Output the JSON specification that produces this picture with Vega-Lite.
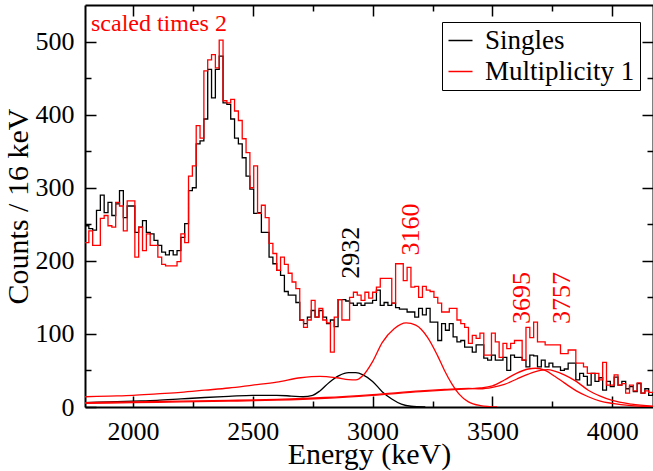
{
"$schema":"https://vega.github.io/schema/vega-lite/v6.json",
"width":568,"height":402,
"autosize":{"type":"none"},
"padding":{"left":85,"top":5,"right":0,"bottom":64},
"background":"white",
"config":{"view":{"stroke":null},"font":"Liberation Serif, serif"},
"datasets":{
"hist":[
{"s":"Singles","E":1800,"c":248},{"s":"Singles","E":1816,"c":244},{"s":"Singles","E":1832,"c":242},{"s":"Singles","E":1848,"c":269},{"s":"Singles","E":1864,"c":290},{"s":"Singles","E":1880,"c":266},{"s":"Singles","E":1896,"c":280},{"s":"Singles","E":1912,"c":262},{"s":"Singles","E":1928,"c":278},{"s":"Singles","E":1944,"c":296},
{"s":"Singles","E":1960,"c":259},{"s":"Singles","E":1976,"c":275},{"s":"Singles","E":1992,"c":275},{"s":"Singles","E":2008,"c":239},{"s":"Singles","E":2024,"c":246},{"s":"Singles","E":2040,"c":255},{"s":"Singles","E":2056,"c":239},{"s":"Singles","E":2072,"c":237},{"s":"Singles","E":2088,"c":228},{"s":"Singles","E":2104,"c":221},
{"s":"Singles","E":2120,"c":212},{"s":"Singles","E":2136,"c":208},{"s":"Singles","E":2152,"c":214},{"s":"Singles","E":2168,"c":208},{"s":"Singles","E":2184,"c":214},{"s":"Singles","E":2200,"c":232},{"s":"Singles","E":2216,"c":251},{"s":"Singles","E":2232,"c":296},{"s":"Singles","E":2248,"c":300},{"s":"Singles","E":2264,"c":360},
{"s":"Singles","E":2280,"c":364},{"s":"Singles","E":2296,"c":394},{"s":"Singles","E":2312,"c":462},{"s":"Singles","E":2328,"c":423},{"s":"Singles","E":2344,"c":462},{"s":"Singles","E":2360,"c":480},{"s":"Singles","E":2376,"c":416},{"s":"Singles","E":2392,"c":414},{"s":"Singles","E":2408,"c":394},{"s":"Singles","E":2424,"c":368},
{"s":"Singles","E":2440,"c":360},{"s":"Singles","E":2456,"c":341},{"s":"Singles","E":2472,"c":316},{"s":"Singles","E":2488,"c":298},{"s":"Singles","E":2504,"c":265},{"s":"Singles","E":2520,"c":266},{"s":"Singles","E":2536,"c":239},{"s":"Singles","E":2552,"c":239},{"s":"Singles","E":2568,"c":205},{"s":"Singles","E":2584,"c":196},
{"s":"Singles","E":2600,"c":187},{"s":"Singles","E":2616,"c":180},{"s":"Singles","E":2632,"c":158},{"s":"Singles","E":2648,"c":153},{"s":"Singles","E":2664,"c":153},{"s":"Singles","E":2680,"c":143},{"s":"Singles","E":2696,"c":119},{"s":"Singles","E":2712,"c":114},{"s":"Singles","E":2728,"c":123},{"s":"Singles","E":2744,"c":132},
{"s":"Singles","E":2760,"c":123},{"s":"Singles","E":2776,"c":132},{"s":"Singles","E":2792,"c":123},{"s":"Singles","E":2808,"c":114},{"s":"Singles","E":2824,"c":119},{"s":"Singles","E":2840,"c":110},{"s":"Singles","E":2856,"c":147},{"s":"Singles","E":2872,"c":147},{"s":"Singles","E":2888,"c":145},{"s":"Singles","E":2904,"c":142},
{"s":"Singles","E":2920,"c":139},{"s":"Singles","E":2936,"c":142},{"s":"Singles","E":2952,"c":139},{"s":"Singles","E":2968,"c":142},{"s":"Singles","E":2984,"c":142},{"s":"Singles","E":3000,"c":146},{"s":"Singles","E":3016,"c":160},{"s":"Singles","E":3032,"c":139},{"s":"Singles","E":3048,"c":143},{"s":"Singles","E":3064,"c":139},
{"s":"Singles","E":3080,"c":142},{"s":"Singles","E":3096,"c":136},{"s":"Singles","E":3112,"c":134},{"s":"Singles","E":3128,"c":134},{"s":"Singles","E":3144,"c":130},{"s":"Singles","E":3160,"c":130},{"s":"Singles","E":3176,"c":123},{"s":"Singles","E":3192,"c":135},{"s":"Singles","E":3208,"c":126},{"s":"Singles","E":3224,"c":135},
{"s":"Singles","E":3240,"c":116},{"s":"Singles","E":3256,"c":116},{"s":"Singles","E":3272,"c":91},{"s":"Singles","E":3288,"c":114},{"s":"Singles","E":3304,"c":105},{"s":"Singles","E":3320,"c":114},{"s":"Singles","E":3336,"c":96},{"s":"Singles","E":3352,"c":89},{"s":"Singles","E":3368,"c":91},{"s":"Singles","E":3384,"c":82},
{"s":"Singles","E":3400,"c":82},{"s":"Singles","E":3416,"c":75},{"s":"Singles","E":3432,"c":85},{"s":"Singles","E":3448,"c":85},{"s":"Singles","E":3464,"c":67},{"s":"Singles","E":3480,"c":64},{"s":"Singles","E":3496,"c":71},{"s":"Singles","E":3512,"c":64},{"s":"Singles","E":3528,"c":64},{"s":"Singles","E":3544,"c":68},
{"s":"Singles","E":3560,"c":50},{"s":"Singles","E":3576,"c":71},{"s":"Singles","E":3592,"c":68},{"s":"Singles","E":3608,"c":68},{"s":"Singles","E":3624,"c":64},{"s":"Singles","E":3640,"c":55},{"s":"Singles","E":3656,"c":71},{"s":"Singles","E":3672,"c":70},{"s":"Singles","E":3688,"c":55},{"s":"Singles","E":3704,"c":64},
{"s":"Singles","E":3720,"c":55},{"s":"Singles","E":3736,"c":60},{"s":"Singles","E":3752,"c":55},{"s":"Singles","E":3768,"c":55},{"s":"Singles","E":3784,"c":50},{"s":"Singles","E":3800,"c":52},{"s":"Singles","E":3816,"c":60},{"s":"Singles","E":3832,"c":60},{"s":"Singles","E":3848,"c":37},{"s":"Singles","E":3864,"c":46},
{"s":"Singles","E":3880,"c":42},{"s":"Singles","E":3896,"c":30},{"s":"Singles","E":3912,"c":46},{"s":"Singles","E":3928,"c":35},{"s":"Singles","E":3944,"c":40},{"s":"Singles","E":3960,"c":23},{"s":"Singles","E":3976,"c":35},{"s":"Singles","E":3992,"c":28},{"s":"Singles","E":4008,"c":41},{"s":"Singles","E":4024,"c":30},
{"s":"Singles","E":4040,"c":35},{"s":"Singles","E":4056,"c":25},{"s":"Singles","E":4072,"c":28},{"s":"Singles","E":4088,"c":21},{"s":"Singles","E":4104,"c":32},{"s":"Singles","E":4120,"c":19},{"s":"Singles","E":4136,"c":25},{"s":"Singles","E":4152,"c":16},{"s":"Singles","E":4168,"c":18},{"s":"Singles","E":4184,"c":18},
{"s":"Multiplicity 1","E":1800,"c":225},{"s":"Multiplicity 1","E":1816,"c":241},{"s":"Multiplicity 1","E":1832,"c":221},{"s":"Multiplicity 1","E":1848,"c":221},{"s":"Multiplicity 1","E":1864,"c":258},{"s":"Multiplicity 1","E":1880,"c":262},{"s":"Multiplicity 1","E":1896,"c":248},{"s":"Multiplicity 1","E":1912,"c":246},{"s":"Multiplicity 1","E":1928,"c":280},{"s":"Multiplicity 1","E":1944,"c":275},
{"s":"Multiplicity 1","E":1960,"c":241},{"s":"Multiplicity 1","E":1976,"c":282},{"s":"Multiplicity 1","E":1992,"c":282},{"s":"Multiplicity 1","E":2008,"c":205},{"s":"Multiplicity 1","E":2024,"c":246},{"s":"Multiplicity 1","E":2040,"c":214},{"s":"Multiplicity 1","E":2056,"c":237},{"s":"Multiplicity 1","E":2072,"c":221},{"s":"Multiplicity 1","E":2088,"c":221},{"s":"Multiplicity 1","E":2104,"c":205},
{"s":"Multiplicity 1","E":2120,"c":195},{"s":"Multiplicity 1","E":2136,"c":193},{"s":"Multiplicity 1","E":2152,"c":193},{"s":"Multiplicity 1","E":2168,"c":193},{"s":"Multiplicity 1","E":2184,"c":199},{"s":"Multiplicity 1","E":2200,"c":237},{"s":"Multiplicity 1","E":2216,"c":225},{"s":"Multiplicity 1","E":2232,"c":316},{"s":"Multiplicity 1","E":2248,"c":330},{"s":"Multiplicity 1","E":2264,"c":385},
{"s":"Multiplicity 1","E":2280,"c":368},{"s":"Multiplicity 1","E":2296,"c":460},{"s":"Multiplicity 1","E":2312,"c":475},{"s":"Multiplicity 1","E":2328,"c":482},{"s":"Multiplicity 1","E":2344,"c":464},{"s":"Multiplicity 1","E":2360,"c":502},{"s":"Multiplicity 1","E":2376,"c":419},{"s":"Multiplicity 1","E":2392,"c":416},{"s":"Multiplicity 1","E":2408,"c":421},{"s":"Multiplicity 1","E":2424,"c":405},
{"s":"Multiplicity 1","E":2440,"c":392},{"s":"Multiplicity 1","E":2456,"c":367},{"s":"Multiplicity 1","E":2472,"c":348},{"s":"Multiplicity 1","E":2488,"c":300},{"s":"Multiplicity 1","E":2504,"c":330},{"s":"Multiplicity 1","E":2520,"c":265},{"s":"Multiplicity 1","E":2536,"c":276},{"s":"Multiplicity 1","E":2552,"c":259},{"s":"Multiplicity 1","E":2568,"c":224},{"s":"Multiplicity 1","E":2584,"c":210},
{"s":"Multiplicity 1","E":2600,"c":187},{"s":"Multiplicity 1","E":2616,"c":205},{"s":"Multiplicity 1","E":2632,"c":195},{"s":"Multiplicity 1","E":2648,"c":183},{"s":"Multiplicity 1","E":2664,"c":171},{"s":"Multiplicity 1","E":2680,"c":162},{"s":"Multiplicity 1","E":2696,"c":119},{"s":"Multiplicity 1","E":2712,"c":109},{"s":"Multiplicity 1","E":2728,"c":119},{"s":"Multiplicity 1","E":2744,"c":146},
{"s":"Multiplicity 1","E":2760,"c":123},{"s":"Multiplicity 1","E":2776,"c":135},{"s":"Multiplicity 1","E":2792,"c":119},{"s":"Multiplicity 1","E":2808,"c":115},{"s":"Multiplicity 1","E":2824,"c":75},{"s":"Multiplicity 1","E":2840,"c":123},{"s":"Multiplicity 1","E":2856,"c":147},{"s":"Multiplicity 1","E":2872,"c":119},{"s":"Multiplicity 1","E":2888,"c":119},{"s":"Multiplicity 1","E":2904,"c":150},
{"s":"Multiplicity 1","E":2920,"c":157},{"s":"Multiplicity 1","E":2936,"c":153},{"s":"Multiplicity 1","E":2952,"c":146},{"s":"Multiplicity 1","E":2968,"c":157},{"s":"Multiplicity 1","E":2984,"c":149},{"s":"Multiplicity 1","E":3000,"c":157},{"s":"Multiplicity 1","E":3016,"c":164},{"s":"Multiplicity 1","E":3032,"c":176},{"s":"Multiplicity 1","E":3048,"c":176},{"s":"Multiplicity 1","E":3064,"c":176},
{"s":"Multiplicity 1","E":3080,"c":142},{"s":"Multiplicity 1","E":3096,"c":196},{"s":"Multiplicity 1","E":3112,"c":196},{"s":"Multiplicity 1","E":3128,"c":173},{"s":"Multiplicity 1","E":3144,"c":191},{"s":"Multiplicity 1","E":3160,"c":164},{"s":"Multiplicity 1","E":3176,"c":165},{"s":"Multiplicity 1","E":3192,"c":150},{"s":"Multiplicity 1","E":3208,"c":165},{"s":"Multiplicity 1","E":3224,"c":160},
{"s":"Multiplicity 1","E":3240,"c":158},{"s":"Multiplicity 1","E":3256,"c":150},{"s":"Multiplicity 1","E":3272,"c":142},{"s":"Multiplicity 1","E":3288,"c":130},{"s":"Multiplicity 1","E":3304,"c":130},{"s":"Multiplicity 1","E":3320,"c":135},{"s":"Multiplicity 1","E":3336,"c":135},{"s":"Multiplicity 1","E":3352,"c":119},{"s":"Multiplicity 1","E":3368,"c":114},{"s":"Multiplicity 1","E":3384,"c":109},
{"s":"Multiplicity 1","E":3400,"c":87},{"s":"Multiplicity 1","E":3416,"c":98},{"s":"Multiplicity 1","E":3432,"c":94},{"s":"Multiplicity 1","E":3448,"c":101},{"s":"Multiplicity 1","E":3464,"c":71},{"s":"Multiplicity 1","E":3480,"c":71},{"s":"Multiplicity 1","E":3496,"c":101},{"s":"Multiplicity 1","E":3512,"c":89},{"s":"Multiplicity 1","E":3528,"c":68},{"s":"Multiplicity 1","E":3544,"c":87},
{"s":"Multiplicity 1","E":3560,"c":80},{"s":"Multiplicity 1","E":3576,"c":87},{"s":"Multiplicity 1","E":3592,"c":91},{"s":"Multiplicity 1","E":3608,"c":91},{"s":"Multiplicity 1","E":3624,"c":64},{"s":"Multiplicity 1","E":3640,"c":109},{"s":"Multiplicity 1","E":3656,"c":95},{"s":"Multiplicity 1","E":3672,"c":116},{"s":"Multiplicity 1","E":3688,"c":89},{"s":"Multiplicity 1","E":3704,"c":89},
{"s":"Multiplicity 1","E":3720,"c":85},{"s":"Multiplicity 1","E":3736,"c":85},{"s":"Multiplicity 1","E":3752,"c":85},{"s":"Multiplicity 1","E":3768,"c":85},{"s":"Multiplicity 1","E":3784,"c":73},{"s":"Multiplicity 1","E":3800,"c":73},{"s":"Multiplicity 1","E":3816,"c":78},{"s":"Multiplicity 1","E":3832,"c":78},{"s":"Multiplicity 1","E":3848,"c":60},{"s":"Multiplicity 1","E":3864,"c":60},
{"s":"Multiplicity 1","E":3880,"c":55},{"s":"Multiplicity 1","E":3896,"c":46},{"s":"Multiplicity 1","E":3912,"c":46},{"s":"Multiplicity 1","E":3928,"c":46},{"s":"Multiplicity 1","E":3944,"c":37},{"s":"Multiplicity 1","E":3960,"c":61},{"s":"Multiplicity 1","E":3976,"c":30},{"s":"Multiplicity 1","E":3992,"c":30},{"s":"Multiplicity 1","E":4008,"c":44},{"s":"Multiplicity 1","E":4024,"c":30},
{"s":"Multiplicity 1","E":4040,"c":32},{"s":"Multiplicity 1","E":4056,"c":19},{"s":"Multiplicity 1","E":4072,"c":30},{"s":"Multiplicity 1","E":4088,"c":22},{"s":"Multiplicity 1","E":4104,"c":33},{"s":"Multiplicity 1","E":4120,"c":19},{"s":"Multiplicity 1","E":4136,"c":22},{"s":"Multiplicity 1","E":4152,"c":20},{"s":"Multiplicity 1","E":4168,"c":20},{"s":"Multiplicity 1","E":4184,"c":20}
],
"curves":[
{"id":"b","s":"Singles","E":1800,"c":6},{"id":"b","s":"Singles","E":1900,"c":7},{"id":"b","s":"Singles","E":2000,"c":8},{"id":"b","s":"Singles","E":2100,"c":9},{"id":"b","s":"Singles","E":2200,"c":11},{"id":"b","s":"Singles","E":2300,"c":13},{"id":"b","s":"Singles","E":2400,"c":14.5},{"id":"b","s":"Singles","E":2500,"c":16},{"id":"b","s":"Singles","E":2600,"c":16},{"id":"b","s":"Singles","E":2660,"c":15},{"id":"b","s":"Singles","E":2710,"c":14},{"id":"b","s":"Singles","E":2750,"c":16},{"id":"b","s":"Singles","E":2780,"c":22},{"id":"b","s":"Singles","E":2820,"c":34},{"id":"b","s":"Singles","E":2860,"c":43},{"id":"b","s":"Singles","E":2900,"c":47},{"id":"b","s":"Singles","E":2930,"c":47},{"id":"b","s":"Singles","E":2960,"c":44},{"id":"b","s":"Singles","E":3000,"c":35},{"id":"b","s":"Singles","E":3040,"c":21},{"id":"b","s":"Singles","E":3080,"c":11},{"id":"b","s":"Singles","E":3120,"c":4},{"id":"b","s":"Singles","E":3160,"c":1},{"id":"b","s":"Singles","E":3220,"c":0},
{"id":"r0","s":"Multiplicity 1","E":1800,"c":14},{"id":"r0","s":"Multiplicity 1","E":1900,"c":15},{"id":"r0","s":"Multiplicity 1","E":2000,"c":16},{"id":"r0","s":"Multiplicity 1","E":2100,"c":18},{"id":"r0","s":"Multiplicity 1","E":2200,"c":20},{"id":"r0","s":"Multiplicity 1","E":2300,"c":23},{"id":"r0","s":"Multiplicity 1","E":2400,"c":26},{"id":"r0","s":"Multiplicity 1","E":2500,"c":30},{"id":"r0","s":"Multiplicity 1","E":2600,"c":34},{"id":"r0","s":"Multiplicity 1","E":2700,"c":40},{"id":"r0","s":"Multiplicity 1","E":2780,"c":42},{"id":"r0","s":"Multiplicity 1","E":2850,"c":40},{"id":"r0","s":"Multiplicity 1","E":2900,"c":37.5},{"id":"r0","s":"Multiplicity 1","E":2930,"c":37},{"id":"r0","s":"Multiplicity 1","E":2960,"c":43},{"id":"r0","s":"Multiplicity 1","E":3000,"c":62},{"id":"r0","s":"Multiplicity 1","E":3040,"c":88},{"id":"r0","s":"Multiplicity 1","E":3090,"c":107},{"id":"r0","s":"Multiplicity 1","E":3140,"c":115},{"id":"r0","s":"Multiplicity 1","E":3180,"c":112},{"id":"r0","s":"Multiplicity 1","E":3230,"c":95},{"id":"r0","s":"Multiplicity 1","E":3270,"c":71},{"id":"r0","s":"Multiplicity 1","E":3300,"c":50},{"id":"r0","s":"Multiplicity 1","E":3330,"c":32},{"id":"r0","s":"Multiplicity 1","E":3360,"c":18},{"id":"r0","s":"Multiplicity 1","E":3400,"c":7},{"id":"r0","s":"Multiplicity 1","E":3450,"c":2},{"id":"r0","s":"Multiplicity 1","E":3520,"c":0},
{"id":"r1","s":"Multiplicity 1","E":1800,"c":5},{"id":"r1","s":"Multiplicity 1","E":2000,"c":6},{"id":"r1","s":"Multiplicity 1","E":2200,"c":7},{"id":"r1","s":"Multiplicity 1","E":2400,"c":8},{"id":"r1","s":"Multiplicity 1","E":2600,"c":9.5},{"id":"r1","s":"Multiplicity 1","E":2800,"c":12},{"id":"r1","s":"Multiplicity 1","E":3000,"c":16},{"id":"r1","s":"Multiplicity 1","E":3200,"c":21},{"id":"r1","s":"Multiplicity 1","E":3300,"c":23},{"id":"r1","s":"Multiplicity 1","E":3400,"c":25},{"id":"r1","s":"Multiplicity 1","E":3450,"c":26},{"id":"r1","s":"Multiplicity 1","E":3500,"c":29},{"id":"r1","s":"Multiplicity 1","E":3550,"c":37},{"id":"r1","s":"Multiplicity 1","E":3600,"c":46},{"id":"r1","s":"Multiplicity 1","E":3650,"c":52},{"id":"r1","s":"Multiplicity 1","E":3680,"c":53},{"id":"r1","s":"Multiplicity 1","E":3720,"c":50},{"id":"r1","s":"Multiplicity 1","E":3760,"c":42},{"id":"r1","s":"Multiplicity 1","E":3800,"c":33},{"id":"r1","s":"Multiplicity 1","E":3850,"c":22},{"id":"r1","s":"Multiplicity 1","E":3900,"c":14},{"id":"r1","s":"Multiplicity 1","E":3950,"c":8},{"id":"r1","s":"Multiplicity 1","E":4000,"c":5},{"id":"r1","s":"Multiplicity 1","E":4080,"c":2},{"id":"r1","s":"Multiplicity 1","E":4180,"c":0.5},
{"id":"r2","s":"Multiplicity 1","E":1800,"c":6},{"id":"r2","s":"Multiplicity 1","E":2000,"c":7},{"id":"r2","s":"Multiplicity 1","E":2200,"c":8},{"id":"r2","s":"Multiplicity 1","E":2400,"c":9},{"id":"r2","s":"Multiplicity 1","E":2600,"c":10.5},{"id":"r2","s":"Multiplicity 1","E":2800,"c":13},{"id":"r2","s":"Multiplicity 1","E":3000,"c":17},{"id":"r2","s":"Multiplicity 1","E":3200,"c":22},{"id":"r2","s":"Multiplicity 1","E":3300,"c":24},{"id":"r2","s":"Multiplicity 1","E":3400,"c":25.5},{"id":"r2","s":"Multiplicity 1","E":3450,"c":25},{"id":"r2","s":"Multiplicity 1","E":3500,"c":27},{"id":"r2","s":"Multiplicity 1","E":3550,"c":31},{"id":"r2","s":"Multiplicity 1","E":3600,"c":38},{"id":"r2","s":"Multiplicity 1","E":3650,"c":45},{"id":"r2","s":"Multiplicity 1","E":3700,"c":50},{"id":"r2","s":"Multiplicity 1","E":3730,"c":51},{"id":"r2","s":"Multiplicity 1","E":3760,"c":49},{"id":"r2","s":"Multiplicity 1","E":3800,"c":44},{"id":"r2","s":"Multiplicity 1","E":3850,"c":35},{"id":"r2","s":"Multiplicity 1","E":3900,"c":23},{"id":"r2","s":"Multiplicity 1","E":3950,"c":15},{"id":"r2","s":"Multiplicity 1","E":4000,"c":9},{"id":"r2","s":"Multiplicity 1","E":4080,"c":4},{"id":"r2","s":"Multiplicity 1","E":4180,"c":1}
]
},
"resolve":{"axis":{"x":"independent","y":"independent"}},
"layer":[
{"data":{"name":"hist"},
 "mark":{"type":"line","interpolate":"step-after","strokeWidth":1.3,"clip":true},
 "encoding":{
  "x":{"field":"E","type":"quantitative","scale":{"domain":[1800,4170],"nice":false,"zero":false},
   "axis":{"orient":"bottom","title":"Energy (keV)","values":[2000,2250,2500,2750,3000,3250,3500,3750,4000],"format":"d","labelExpr":"datum.value % 500 === 0 ? datum.label : ''","grid":false,"domainColor":"black","domainWidth":2,"tickColor":"black","tickWidth":1.5,"tickSize":{"condition":{"test":"datum.value % 500 === 0","value":-11},"value":-6},"labelPadding":22,"labelFont":"Liberation Serif, serif","labelFontSize":26,"labelColor":"black","labelFlush":false,"titleFont":"Liberation Serif, serif","titleFontSize":30,"titleFontWeight":"normal","titleColor":"black","titlePadding":-5}},
  "y":{"field":"c","type":"quantitative","scale":{"domain":[0,550],"nice":false},
   "axis":{"orient":"left","title":"Counts / 16 keV","values":[0,50,100,150,200,250,300,350,400,450,500],"format":"d","labelExpr":"datum.value % 100 === 0 ? datum.label : ''","grid":false,"domainColor":"black","domainWidth":2,"tickColor":"black","tickWidth":1.5,"tickSize":{"condition":{"test":"datum.value % 100 === 0","value":-11},"value":-6},"labelPadding":22,"labelFont":"Liberation Serif, serif","labelFontSize":26,"labelColor":"black","labelFlush":false,"titleFont":"Liberation Serif, serif","titleFontSize":30,"titleFontWeight":"normal","titleColor":"black","titlePadding":2}},
  "color":{"field":"s","type":"nominal","scale":{"domain":["Singles","Multiplicity 1"],"range":["black","red"]},
   "legend":{"title":null,"orient":"none","legendX":357,"legendY":17,"symbolType":"stroke","symbolSize":576,"symbolStrokeWidth":1.5,"labelFont":"Liberation Serif, serif","labelFontSize":27,"labelColor":"black","labelOffset":11,"labelLimit":400,"rowPadding":3,"padding":5,"fillColor":"white","strokeColor":"black","cornerRadius":0}}
 }},
{"data":{"name":"curves"},
 "mark":{"type":"line","interpolate":"monotone","strokeWidth":1.3,"clip":true},
 "encoding":{
  "x":{"field":"E","type":"quantitative","axis":{"orient":"top","title":null,"labels":false,"values":[2000,2250,2500,2750,3000,3250,3500,3750,4000],"grid":false,"domainColor":"black","domainWidth":2,"tickColor":"black","tickWidth":1.5,"tickSize":{"condition":{"test":"datum.value % 500 === 0","value":-11},"value":-6}}},
  "y":{"field":"c","type":"quantitative","axis":{"orient":"right","title":null,"labels":false,"values":[50,100,150,200,250,300,350,400,450,500],"grid":false,"domainColor":"black","domainWidth":2,"tickColor":"black","tickWidth":1.5,"tickSize":{"condition":{"test":"datum.value % 100 === 0","value":-11},"value":-6}}},
  "color":{"field":"s","type":"nominal"},
  "detail":{"field":"id"}
 }},
{"data":{"values":[{"t":"2932","E":2910,"c":211}]},
 "mark":{"type":"text","angle":270,"align":"center","baseline":"middle","font":"Liberation Serif, serif","fontSize":26,"color":"black"},
 "encoding":{"x":{"field":"E","type":"quantitative","axis":null},"y":{"field":"c","type":"quantitative","axis":null},"text":{"field":"t"}}},
{"data":{"values":[{"t":"3160","E":3160,"c":243},{"t":"3695","E":3623,"c":149},{"t":"3757","E":3790,"c":149}]},
 "mark":{"type":"text","angle":270,"align":"center","baseline":"middle","font":"Liberation Serif, serif","fontSize":26,"color":"red"},
 "encoding":{"x":{"field":"E","type":"quantitative","axis":null},"y":{"field":"c","type":"quantitative","axis":null},"text":{"field":"t"}}},
{"data":{"values":[{"t":"scaled times 2","E":1825,"c":514}]},
 "mark":{"type":"text","align":"left","baseline":"alphabetic","font":"Liberation Serif, serif","fontSize":24,"color":"red"},
 "encoding":{"x":{"field":"E","type":"quantitative","axis":null},"y":{"field":"c","type":"quantitative","axis":null},"text":{"field":"t"}}}
]
}
